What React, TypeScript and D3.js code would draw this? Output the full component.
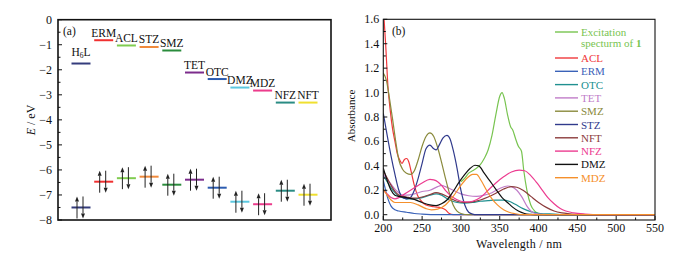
import React from 'react';
import * as d3 from 'd3';

// ---------- Panel (a) data ----------
const compounds = ['H6L', 'ERM', 'ACL', 'STZ', 'SMZ', 'TET', 'OTC', 'DMZ', 'MDZ', 'NFZ', 'NFT'];
const lumo = [-1.75, -0.82, -1.03, -1.09, -1.23, -2.11, -2.37, -2.71, -2.83, -3.31, -3.31];
const homo = [-7.5, -6.47, -6.33, -6.27, -6.59, -6.39, -6.71, -7.27, -7.37, -6.83, -6.99];
const levelColors = ['#343c7c', '#f03030', '#80cc50', '#f08a3c', '#2a8c3c', '#7c2c8c', '#2c5cb0', '#5cc8e0', '#ec3c8c', '#2a8c84', '#f0e030'];
const energyTicks = [0, -1, -2, -3, -4, -5, -6, -7, -8];

// ---------- Panel (b) data ----------
const excitation: [number, number][] = [[300, 0.27], [305, 0.3], [310, 0.34], [315, 0.36], [320, 0.38], [325, 0.41], [330, 0.46], [335, 0.53], [340, 0.65], [345, 0.82], [350, 0.97], [353, 1.0], [356, 0.95], [360, 0.82], [364, 0.72], [367, 0.69], [370, 0.63], [374, 0.56], [378, 0.52], [381, 0.36], [385, 0.2], [390, 0.08], [395, 0.03], [400, 0.01], [410, 0.0], [550, 0.0]];
const acl: [number, number][] = [[200, 1.7], [203, 1.4], [206, 1.05], [209, 0.85], [212, 0.7], [215, 0.6], [218, 0.5], [221, 0.45], [224, 0.42], [227, 0.45], [230, 0.46], [233, 0.43], [236, 0.35], [240, 0.24], [244, 0.16], [248, 0.12], [255, 0.08], [265, 0.065], [275, 0.055], [280, 0.04], [285, 0.01], [290, 0.0], [550, 0.0]];
const erm: [number, number][] = [[200, 0.28], [203, 0.2], [206, 0.13], [210, 0.07], [215, 0.04], [220, 0.03], [230, 0.02], [240, 0.01], [250, 0.005], [270, 0.0], [550, 0.0]];
const otc: [number, number][] = [[200, 0.32], [205, 0.27], [210, 0.22], [215, 0.18], [220, 0.15], [225, 0.14], [230, 0.13], [240, 0.13], [250, 0.14], [260, 0.16], [268, 0.17], [275, 0.16], [285, 0.12], [295, 0.1], [305, 0.095], [315, 0.1], [325, 0.11], [335, 0.115], [345, 0.12], [355, 0.12], [362, 0.11], [370, 0.085], [380, 0.05], [390, 0.025], [400, 0.012], [420, 0.005], [440, 0.0], [550, 0.0]];
const tet: [number, number][] = [[200, 0.33], [205, 0.29], [210, 0.25], [215, 0.21], [220, 0.18], [225, 0.16], [230, 0.16], [240, 0.17], [250, 0.19], [260, 0.2], [270, 0.23], [275, 0.24], [280, 0.23], [290, 0.2], [300, 0.17], [310, 0.155], [320, 0.15], [330, 0.16], [340, 0.18], [350, 0.215], [360, 0.235], [365, 0.23], [372, 0.2], [378, 0.15], [385, 0.07], [392, 0.02], [400, 0.005], [420, 0.0], [550, 0.0]];
const smz: [number, number][] = [[200, 1.16], [204, 1.1], [208, 0.95], [212, 0.78], [216, 0.6], [220, 0.45], [225, 0.37], [230, 0.34], [235, 0.33], [240, 0.36], [245, 0.45], [250, 0.56], [255, 0.64], [260, 0.67], [265, 0.64], [270, 0.55], [275, 0.43], [280, 0.3], [285, 0.18], [290, 0.08], [295, 0.03], [300, 0.01], [310, 0.0], [550, 0.0]];
const stz: [number, number][] = [[200, 0.83], [205, 0.65], [210, 0.48], [215, 0.33], [220, 0.2], [225, 0.14], [230, 0.13], [235, 0.14], [240, 0.2], [245, 0.3], [250, 0.42], [255, 0.54], [260, 0.57], [265, 0.54], [268, 0.53], [272, 0.57], [277, 0.63], [282, 0.65], [286, 0.62], [290, 0.53], [295, 0.38], [300, 0.2], [305, 0.08], [310, 0.02], [315, 0.005], [320, 0.0], [550, 0.0]];
const nft: [number, number][] = [[200, 0.36], [205, 0.3], [210, 0.24], [215, 0.19], [220, 0.16], [230, 0.145], [240, 0.135], [250, 0.145], [260, 0.165], [268, 0.18], [275, 0.17], [285, 0.14], [295, 0.11], [305, 0.1], [315, 0.105], [325, 0.12], [335, 0.145], [345, 0.175], [355, 0.21], [365, 0.23], [372, 0.225], [380, 0.2], [390, 0.15], [400, 0.1], [410, 0.06], [420, 0.03], [430, 0.015], [440, 0.008], [450, 0.003], [470, 0.0], [550, 0.0]];
const nfz: [number, number][] = [[200, 0.2], [205, 0.17], [210, 0.14], [215, 0.13], [220, 0.14], [225, 0.16], [230, 0.18], [240, 0.22], [250, 0.26], [260, 0.29], [265, 0.285], [270, 0.27], [275, 0.24], [280, 0.2], [290, 0.14], [300, 0.11], [308, 0.105], [315, 0.11], [325, 0.14], [335, 0.2], [345, 0.26], [355, 0.31], [365, 0.35], [375, 0.365], [382, 0.36], [390, 0.32], [398, 0.26], [405, 0.2], [412, 0.14], [420, 0.09], [428, 0.05], [435, 0.03], [445, 0.015], [460, 0.005], [480, 0.0], [550, 0.0]];
const dmz: [number, number][] = [[200, 0.38], [205, 0.28], [210, 0.2], [215, 0.16], [220, 0.15], [230, 0.14], [240, 0.125], [250, 0.1], [260, 0.08], [268, 0.075], [275, 0.09], [282, 0.12], [290, 0.19], [297, 0.26], [305, 0.33], [312, 0.38], [318, 0.405], [323, 0.4], [330, 0.34], [338, 0.27], [346, 0.2], [353, 0.14], [360, 0.1], [367, 0.06], [374, 0.03], [382, 0.01], [390, 0.003], [400, 0.0], [550, 0.0]];
const mdz: [number, number][] = [[200, 0.21], [205, 0.16], [210, 0.12], [215, 0.1], [225, 0.1], [235, 0.1], [245, 0.08], [255, 0.05], [262, 0.04], [270, 0.045], [280, 0.08], [290, 0.15], [300, 0.24], [308, 0.3], [315, 0.33], [320, 0.33], [326, 0.28], [333, 0.2], [340, 0.13], [347, 0.08], [355, 0.04], [362, 0.02], [370, 0.008], [380, 0.0], [550, 0.0]];

const seriesNames = ['Excitation', 'ACL', 'ERM', 'OTC', 'TET', 'SMZ', 'STZ', 'NFT', 'NFZ', 'DMZ', 'MDZ'];
const seriesData = [excitation, acl, erm, otc, tet, smz, stz, nft, nfz, dmz, mdz];
const seriesColors = ['#78c450', '#f0383c', '#3a62b8', '#209090', '#c07cc8', '#8a8a3c', '#303a8c', '#8c3c3c', '#ec3c90', '#111111', '#f5902c'];
const absTicks = [0, 0.2, 0.4, 0.6, 0.8, 1.0, 1.2, 1.4, 1.6];
const wlTicks = [200, 250, 300, 350, 400, 450, 500, 550];

const FONT = '"Liberation Serif", "Times New Roman", serif';

export default function App() {
  // Panel a scales
  const ax0 = 58, ax1 = 331, ay0 = 19.7, ay1 = 220;
  const yE = d3.scaleLinear().domain([0, -8]).range([ay0, ay1]);
  const xC = d3.scalePoint<string>().domain(compounds).range([81, 308]);
  const halfW = 9.5;
  const minorE = d3.range(0, -8.01, -0.5);

  // Panel b scales
  const bx0 = 383.3, bx1 = 655, by0 = 19.3, by1 = 220;
  const xW = d3.scaleLinear().domain([200, 550]).range([bx0, bx1]);
  const yA = d3.scaleLinear().domain([0, 1.6]).range([214.7, by0]);
  const line = d3.line<[number, number]>().x(d => xW(d[0])).y(d => yA(d[1])).curve(d3.curveMonotoneX);
  const minorW = d3.range(200, 551, 25);
  const minorA = d3.range(0, 1.61, 0.1);

  const arrow = (x: number, yFrom: number, yTo: number, key: string) => {
    const dir = yTo < yFrom ? -1 : 1;
    const head = 5;
    return (
      <g key={key}>
        <line x1={x} x2={x} y1={yFrom} y2={yTo - dir * head} stroke="#222" strokeWidth={1} />
        <path d={`M${x},${yTo} L${x - 2},${yTo - dir * head} L${x + 2},${yTo - dir * head} Z`} fill="#222" />
      </g>
    );
  };

  return (
    <svg width={694} height={256} style={{ position: 'absolute', left: 0, top: 0, background: '#fff' }} fontFamily={FONT}>
      {/* ===== Panel (a) ===== */}
      <rect x={ax0} y={ay0} width={ax1 - ax0} height={ay1 - ay0} fill="none" stroke="#111" strokeWidth={1.6} />
      {minorE.map((v, i) => {
        const major = Math.abs(v - Math.round(v)) < 1e-6;
        return <line key={'ea' + i} x1={ax0} x2={ax0 + (major ? 4 : 2.5)} y1={yE(v)} y2={yE(v)} stroke="#111" strokeWidth={1} />;
      })}
      {energyTicks.map(v => (
        <text key={'el' + v} x={ax0 - 6} y={yE(v) + 4} textAnchor="end" fontSize={12} fill="#111">
          {v === 0 ? '0' : '\u2212' + Math.abs(v)}
        </text>
      ))}
      <text transform={`translate(35,120) rotate(-90)`} textAnchor="middle" fontSize={12} fill="#111">
        <tspan fontStyle="italic">E</tspan> / eV
      </text>
      <text x={63} y={35} fontSize={11.5} fill="#111">(a)</text>
      {compounds.map((c, i) => {
        const cx = xC(c) as number;
        const yl = yE(lumo[i]);
        const yh = yE(homo[i]);
        return (
          <g key={'c' + c}>
            <line x1={cx - halfW} x2={cx + halfW} y1={yl} y2={yl} stroke={levelColors[i]} strokeWidth={2} />
            <line x1={cx - halfW} x2={cx + halfW} y1={yh} y2={yh} stroke={levelColors[i]} strokeWidth={2} />
            {arrow(cx - 4, yh + 11, yh - 11, 'u' + c)}
            {arrow(cx + 2, yh - 11, yh + 11, 'd' + c)}
            {c === 'H6L' ? (
              <text x={cx} y={yl - 8} textAnchor="middle" fontSize={11.5} fill="#111">
                H<tspan fontSize={7.5} dy={2}>6</tspan><tspan dy={-2}>L</tspan>
              </text>
            ) : (
              <text x={cx} y={yl - 3.5} textAnchor="middle" fontSize={11.5} fill="#111">{c}</text>
            )}
          </g>
        );
      })}

      {/* ===== Panel (b) ===== */}
      <defs>
        <clipPath id="plotb">
          <rect x={bx0} y={by0} width={bx1 - bx0} height={by1 - by0} />
        </clipPath>
      </defs>
      <g clipPath="url(#plotb)">
        {seriesData.map((s, i) => (
          <path key={'s' + i} d={line(s) || ''} fill="none" stroke={seriesColors[i]} strokeWidth={1.2} />
        ))}
      </g>
      <rect x={bx0} y={by0} width={bx1 - bx0} height={by1 - by0} fill="none" stroke="#111" strokeWidth={1.1} />
      {minorW.map(v => {
        const major = v % 50 === 0;
        return <line key={'wt' + v} x1={xW(v)} x2={xW(v)} y1={by1} y2={by1 - (major ? 4 : 2.5)} stroke="#111" strokeWidth={1} />;
      })}
      {minorA.map((v, i) => {
        const major = i % 2 === 0;
        return <line key={'at' + i} x1={bx0} x2={bx0 + (major ? 4 : 2.5)} y1={yA(v)} y2={yA(v)} stroke="#111" strokeWidth={1} />;
      })}
      {wlTicks.map(v => (
        <text key={'wl' + v} x={xW(v)} y={232} textAnchor="middle" fontSize={12} fill="#111">{v}</text>
      ))}
      {absTicks.map(v => (
        <text key={'al' + v} x={bx0 - 4} y={yA(v) + 4} textAnchor="end" fontSize={12} fill="#111">{v.toFixed(1)}</text>
      ))}
      <text x={(bx0 + bx1) / 2} y={248} textAnchor="middle" fontSize={12} letterSpacing={0.3} fill="#111">Wavelength / nm</text>
      <text transform={`translate(355,116) rotate(-90)`} textAnchor="middle" fontSize={11} fill="#111">Absorbance</text>
      <text x={392} y={35} fontSize={11.5} fill="#111">(b)</text>

      {/* legend */}
      {seriesNames.map((n, i) => {
        const rowY = i === 0 ? 32 : 58 + (i - 1) * 13.3;
        return (
          <g key={'lg' + n}>
            <line x1={555} x2={578} y1={rowY} y2={rowY} stroke={seriesColors[i]} strokeWidth={1.4} />
            {i === 0 ? (
              <>
                <text x={581} y={rowY + 4} fontSize={11} fill={seriesColors[i]}>Excitation</text>
                <text x={581} y={rowY + 15} fontSize={11} fill={seriesColors[i]}>
                  specturm of <tspan fontWeight="bold">1</tspan>
                </text>
              </>
            ) : (
              <text x={581} y={rowY + 4} fontSize={11} fill={seriesColors[i]}>{n}</text>
            )}
          </g>
        );
      })}
    </svg>
  );
}
